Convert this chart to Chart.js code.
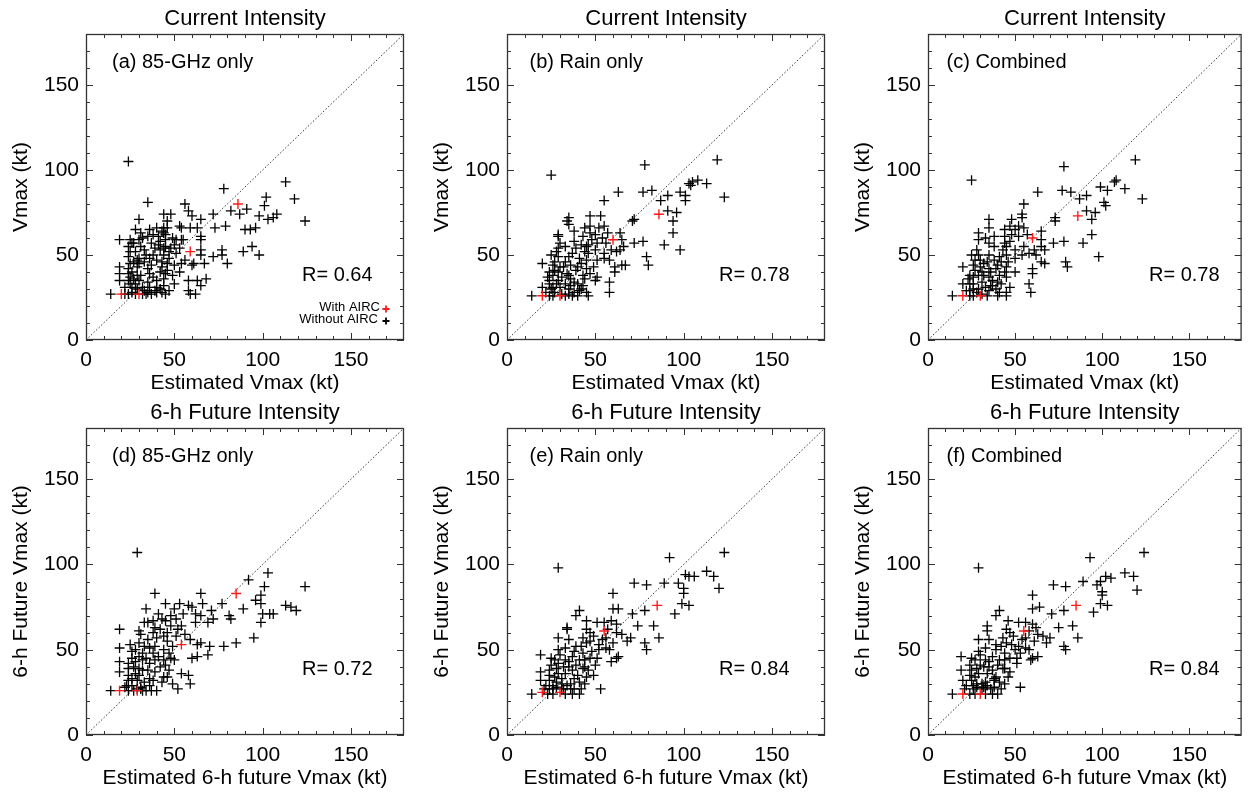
<!DOCTYPE html>
<html><head><meta charset="utf-8">
<script src="https://cdn.jsdelivr.net/npm/chart.js@4.4.0/dist/chart.umd.min.js"></script>
<style>
html,body{margin:0;padding:0;background:#fff;}
#wrap{position:relative;width:1248px;height:792px;overflow:hidden;background:#fff}
canvas{position:absolute;}
</style></head><body><div id="wrap"></div>
<script>
// ---------------- DATA ----------------
const tickValues = [0, 50, 100, 150];
const minorTicks = [10, 20, 30, 40, 60, 70, 80, 90, 110, 120, 130, 140, 160, 170];
const diagonal = [[0, 0], [180, 180]];

const rowTitles = ['Current Intensity', '6-h Future Intensity'];
const xTitles = ['Estimated Vmax (kt)', 'Estimated 6-h future Vmax (kt)'];
const yTitles = ['Vmax (kt)', '6-h Future Vmax (kt)'];
const panelLabels = ['(a) 85-GHz only', '(b) Rain only', '(c) Combined', '(d) 85-GHz only', '(e) Rain only', '(f) Combined'];
const rValues = ['0.64', '0.78', '0.78', '0.72', '0.84', '0.84'];
const legendLabels = ['With AIRC', 'Without AIRC'];

const blackA = [[24,105],[78,89],[113,93],[118,83],[124,70],[35,81],[56,80],[102,84],[101,79],[82,76],[87,74],[91,77],[98,73],[103,71],[106,72],[108,74],[30,71],[44,74],[48,74],[58,76],[60,73],[65,71],[72,74],[73,66],[79,67],[90,65],[93,65],[96,66],[53,67],[54,66],[59,66],[63,66],[28,65],[36,65],[40,66],[43,64],[19,59],[25,59],[30,59],[35,61],[41,61],[45,62],[49,60],[65,59],[65,61],[48,54],[55,59],[65,53],[65,50],[72,49],[77,53],[77,50],[89,52],[94,55],[98,50],[24,55],[28,52],[33,53],[39,54],[45,55],[24,49],[30,48],[40,47],[44,50],[46,45],[50,44],[54,45],[60,44],[61,45],[67,45],[80,45],[19,43],[24,42],[29,43],[35,42],[43,43],[19,39],[24,39],[31,38],[36,39],[45,39],[50,33],[58,35],[63,35],[68,36],[19,35],[24,35],[30,35],[35,34],[40,35],[22,31],[26,31],[32,31],[36,31],[40,31],[44,32],[65,32],[58,29],[59,27],[62,27],[14,27],[24,27],[26,28],[32,27],[34,27],[37,27],[40,28],[43,28],[45,27],[27,46],[26,40],[28,33],[33,46],[38,50],[42,58],[44,66],[46,70],[37,57],[31,63],[27,57],[38,37],[33,29],[29,30],[42,30],[37,44],[22,27],[28,27],[35,28],[47,48],[45,59],[44,63],[42,53],[51,51],[53,54],[51,59],[54,59],[25,33],[25,37],[25,45],[25,52],[26,57],[29,47],[29,38],[30,45],[31,55],[27,36],[43,46],[44,36],[46,41],[44,54],[46,66],[47,52],[42,40],[41,56],[36,48],[34,50],[38,62],[32,60],[39,29],[47,29],[49,38],[53,40],[56,47],[50,56]];
const redA = [[20,27],[30,27],[59,52],[86,80]];

const blackB = [[25,97],[78,103],[119,106],[123,84],[63,87],[55,82],[77,87],[82,88],[87,82],[91,85],[98,87],[101,82],[101,85],[103,92],[105,93],[108,94],[113,92],[104,91],[91,76],[96,75],[94,70],[94,63],[89,56],[98,53],[72,71],[71,70],[72,57],[77,58],[79,49],[80,44],[64,63],[65,59],[66,55],[64,53],[65,44],[67,44],[61,40],[58,28],[58,34],[47,73],[53,73],[55,67],[35,72],[35,68],[34,70],[44,66],[43,61],[47,63],[50,62],[29,62],[29,61],[54,60],[51,57],[56,57],[38,58],[33,55],[39,54],[45,55],[46,51],[50,53],[55,51],[59,53],[29,54],[25,50],[29,49],[35,49],[41,48],[45,47],[51,47],[55,48],[58,47],[20,45],[26,44],[30,43],[36,44],[40,43],[45,42],[49,43],[61,43],[51,37],[24,40],[29,40],[35,38],[43,38],[47,39],[50,35],[24,35],[29,35],[33,33],[38,34],[43,32],[20,31],[25,30],[30,31],[35,30],[41,29],[45,28],[14,26],[24,26],[26,26],[33,26],[37,26],[40,26],[46,26],[42,30],[38,28],[27,28],[22,28],[31,37],[27,41],[33,46],[37,51],[42,56],[28,33],[35,27],[24,33],[26,38],[27,46],[28,52],[30,57],[32,43],[34,39],[36,36],[39,41],[42,45],[44,52],[46,56],[48,59],[40,33],[44,36],[31,27],[36,32],[26,31],[23,37],[47,67],[38,64],[52,66],[57,63],[62,52]];
const redB = [[20,26],[30,26],[60,59],[86,74]];

const blackC = [[25,94],[78,102],[119,106],[123,83],[63,87],[55,80],[54,74],[77,88],[82,87],[87,83],[91,85],[99,90],[103,88],[108,94],[107,93],[113,89],[101,81],[102,79],[91,76],[96,75],[94,71],[94,62],[89,57],[98,49],[73,72],[73,70],[72,57],[78,58],[79,46],[80,43],[65,64],[65,59],[65,55],[67,53],[65,46],[67,45],[60,42],[60,39],[58,33],[59,28],[48,71],[54,72],[55,66],[35,71],[35,66],[44,65],[44,61],[50,65],[52,61],[29,63],[29,59],[35,57],[38,55],[45,55],[50,53],[55,55],[58,51],[61,53],[25,50],[29,50],[35,50],[41,49],[45,50],[50,48],[54,50],[20,43],[26,44],[30,43],[35,42],[40,44],[45,43],[50,40],[24,38],[29,38],[35,37],[41,38],[45,37],[20,33],[26,33],[31,34],[37,32],[42,33],[47,31],[24,29],[29,30],[35,29],[41,28],[45,28],[14,26],[24,26],[26,26],[34,26],[40,26],[45,26],[27,47],[32,45],[38,47],[43,53],[47,58],[31,40],[37,35],[22,29],[28,28],[33,31],[39,30],[24,33],[26,37],[27,41],[28,53],[30,47],[32,38],[34,46],[36,40],[39,42],[42,46],[44,57],[46,46],[48,62],[40,34],[44,40],[31,27],[36,32],[26,30],[23,36],[47,67],[38,61],[52,67],[57,62],[62,50],[33,60]];
const redC = [[20,26],[30,26],[60,60],[86,73]];

const blackD = [[29,107],[124,87],[103,95],[92,91],[101,87],[99,82],[96,79],[39,83],[65,83],[66,77],[77,77],[89,74],[99,77],[100,71],[104,71],[106,71],[99,66],[113,76],[116,75],[119,73],[95,57],[85,54],[78,52],[70,52],[69,47],[45,77],[53,77],[58,76],[60,75],[71,73],[72,68],[81,70],[82,68],[62,71],[65,70],[62,66],[69,66],[34,74],[33,66],[43,68],[45,67],[51,68],[54,64],[19,62],[30,61],[31,59],[38,60],[39,63],[46,55],[39,52],[33,52],[30,54],[25,53],[19,51],[59,56],[63,53],[65,54],[51,58],[49,52],[26,49],[32,48],[38,48],[44,50],[48,45],[50,44],[60,45],[63,46],[19,43],[24,42],[28,43],[32,44],[45,41],[24,39],[30,39],[35,38],[39,37],[54,36],[58,35],[19,37],[30,35],[46,34],[59,30],[24,32],[29,32],[33,31],[38,32],[43,31],[49,30],[52,27],[14,26],[24,26],[27,26],[32,26],[34,26],[37,26],[40,26],[22,28],[26,29],[28,36],[36,42],[41,46],[47,48],[35,56],[42,62],[48,64],[44,58],[36,29],[31,28],[24,35],[26,45],[27,40],[28,50],[30,46],[32,38],[34,45],[36,51],[39,44],[42,40],[44,44],[46,60],[48,70],[40,57],[44,34],[31,27],[36,33],[26,33],[23,29],[47,38],[38,67],[52,62],[56,59],[35,66],[41,71],[50,74],[55,71],[29,27]];
const redD = [[19,26],[29,26],[54,53],[85,83]];

const blackE = [[29,98],[92,104],[123,107],[113,96],[117,93],[120,86],[101,94],[103,93],[106,93],[97,89],[100,86],[100,83],[99,77],[103,76],[89,89],[79,88],[72,89],[95,71],[78,73],[71,71],[83,64],[86,57],[78,54],[79,50],[60,83],[60,74],[63,74],[39,70],[41,73],[45,67],[34,63],[34,62],[51,66],[55,66],[59,67],[62,65],[57,62],[62,60],[65,59],[68,55],[70,57],[74,64],[29,57],[35,56],[43,57],[45,54],[47,55],[52,53],[56,51],[60,54],[62,45],[63,46],[59,43],[19,47],[25,45],[29,50],[33,51],[38,49],[43,48],[48,49],[52,50],[25,41],[29,42],[35,43],[39,41],[44,40],[46,38],[50,41],[19,37],[24,38],[29,36],[33,36],[40,35],[45,34],[49,35],[19,32],[24,32],[28,31],[31,33],[36,30],[41,31],[53,27],[14,24],[23,24],[26,24],[33,24],[37,24],[41,24],[24,27],[28,28],[32,27],[36,27],[22,29],[27,34],[32,40],[37,46],[42,52],[47,60],[31,30],[38,33],[44,44],[24,35],[26,29],[27,44],[28,39],[30,47],[31,27],[34,29],[35,40],[37,38],[39,52],[41,44],[43,39],[45,62],[47,45],[49,58],[51,45],[54,56],[56,57],[58,50],[33,44],[21,27],[26,27],[38,27],[42,27],[44,30]];
const redE = [[20,25],[30,25],[55,61],[85,76]];

const blackF = [[29,98],[93,104],[124,107],[113,95],[118,93],[120,85],[102,93],[105,92],[99,90],[97,88],[100,84],[100,82],[99,77],[103,76],[89,90],[79,87],[72,88],[95,72],[78,73],[71,71],[83,64],[86,57],[78,52],[79,50],[60,82],[60,74],[64,75],[41,73],[39,70],[46,67],[34,64],[34,61],[52,66],[56,66],[60,65],[62,63],[58,61],[63,59],[66,58],[68,54],[70,57],[75,63],[29,56],[35,56],[43,57],[45,54],[48,53],[52,52],[56,51],[61,55],[60,45],[63,46],[59,44],[19,46],[25,45],[29,49],[33,51],[39,50],[44,48],[50,50],[53,48],[24,41],[30,41],[35,43],[40,41],[44,39],[47,37],[51,42],[19,38],[25,38],[29,36],[34,36],[39,34],[46,34],[20,32],[25,32],[28,30],[33,31],[38,32],[41,31],[53,28],[14,24],[24,24],[27,24],[33,24],[37,24],[40,24],[28,28],[32,28],[36,27],[22,29],[27,34],[32,40],[37,46],[42,52],[47,60],[31,30],[38,33],[44,44],[24,35],[26,29],[27,44],[28,39],[30,47],[31,27],[34,29],[35,40],[37,38],[39,53],[41,44],[43,39],[45,62],[47,45],[49,58],[51,45],[54,56],[56,57],[58,50],[33,44],[21,27],[26,27],[38,28],[42,27],[44,30]];
const redF = [[20,24],[30,24],[55,61],[85,76]];

const blackSets = [blackA, blackB, blackC, blackD, blackE, blackF];
const redSets = [redA, redB, redC, redD, redE, redF];

// ---------------- LAYOUT ----------------
const FONT = "'Liberation Sans', Arial, Helvetica, sans-serif";
const colCanvasLeft = [0, 421, 842];
const colCanvasWidth = [416, 416, 406];
const colRightPad = [12, 12, 2];
const rowCanvasTop = [0, 396];
const rowTopPad = [34, 32];
const rowXHeight = [56, 57];
const labelOffset = [26, 22.5, 18.5];
const rOffset = [216, 212, 221];

Chart.defaults.font.family = FONT;
const pts = a => a.map(([x, y]) => ({x, y}));

const decor = {
  id: 'decor',
  afterDatasetsDraw(chart) {
    const o = chart.options.plugins.decor;
    const {ctx, chartArea: {left, right, top, bottom}, scales: {x, y}} = chart;
    ctx.save();
    ctx.strokeStyle = '#333';
    ctx.lineWidth = 1;
    ctx.beginPath();
    const list = tickValues.map(v => [v, 7]).concat(minorTicks.map(v => [v, 4]));
    for (const [v, len] of list) {
      const px = Math.round(x.getPixelForValue(v)) + 0.5;
      ctx.moveTo(px, bottom); ctx.lineTo(px, bottom - len);
      ctx.moveTo(px, top); ctx.lineTo(px, top + len);
      const py = Math.round(y.getPixelForValue(v)) + 0.5;
      ctx.moveTo(left, py); ctx.lineTo(left + len, py);
      ctx.moveTo(right, py); ctx.lineTo(right - len, py);
    }
    ctx.stroke();
    ctx.lineWidth = 1.3;
    ctx.strokeRect(left + 0.5, top + 0.5, right - left - 1, bottom - top - 1);

    ctx.fillStyle = '#000';
    ctx.font = '22px ' + FONT;
    ctx.textAlign = 'center';
    ctx.textBaseline = 'alphabetic';
    ctx.fillText(o.title, (left + right) / 2, top - 9);

    ctx.font = '20px ' + FONT;
    ctx.textAlign = 'left';
    ctx.textBaseline = 'middle';
    ctx.fillText(o.label, left + o.labelOff, top + 28);
    ctx.fillText('R= ' + o.r, left + o.rOff, top + 241);

    if (o.legend) {
      ctx.font = '13px ' + FONT;
      ctx.textAlign = 'right';
      ctx.fillText(legendLabels[0], left + 294, top + 273);
      ctx.fillText(legendLabels[1], left + 292, top + 285);
      const cross = (cx, cy, col) => {
        ctx.strokeStyle = col; ctx.lineWidth = 1.8;
        ctx.beginPath();
        ctx.moveTo(cx - 3.5, cy); ctx.lineTo(cx + 3.5, cy);
        ctx.moveTo(cx, cy - 3.5); ctx.lineTo(cx, cy + 3.5);
        ctx.stroke();
      };
      cross(left + 300, top + 275, '#ff1a1a');
      cross(left + 300, top + 287, '#000');
    }
    ctx.restore();
  }
};

const wrap = document.getElementById('wrap');
for (let i = 0; i < 6; i++) {
  const row = Math.floor(i / 3), col = i % 3;
  const cv = document.createElement('canvas');
  cv.width = colCanvasWidth[col];
  cv.height = 396;
  cv.style.left = colCanvasLeft[col] + 'px';
  cv.style.top = rowCanvasTop[row] + 'px';
  cv.style.width = colCanvasWidth[col] + 'px';
  cv.style.height = '396px';
  wrap.appendChild(cv);

  const tickFont = {family: FONT, size: 21};
  new Chart(cv.getContext('2d'), {
    type: 'scatter',
    data: {
      datasets: [
        {data: pts(redSets[i]), pointStyle: 'cross', pointRadius: 5, pointHoverRadius: 5,
         borderColor: '#ff1a1a', backgroundColor: '#ff1a1a', borderWidth: 1.4, order: 0},
        {data: pts(blackSets[i]), pointStyle: 'cross', pointRadius: 5, pointHoverRadius: 5,
         borderColor: '#000', backgroundColor: '#000', borderWidth: 1.3, order: 1},
        {data: pts(diagonal), showLine: true, pointRadius: 0, borderColor: '#333',
         borderWidth: 1, borderDash: [1.5, 2], order: 2}
      ]
    },
    options: {
      responsive: false, animation: false, devicePixelRatio: 1,
      events: [],
      layout: {padding: {top: rowTopPad[row], right: colRightPad[col], left: 0, bottom: 0}},
      plugins: {
        legend: {display: false}, tooltip: {enabled: false},
        decor: {title: rowTitles[row], label: panelLabels[i], r: rValues[i],
                labelOff: labelOffset[col], rOff: rOffset[col], legend: i === 0}
      },
      scales: {
        x: {
          type: 'linear', min: 0, max: 180,
          afterBuildTicks: s => { s.ticks = tickValues.map(v => ({value: v})); },
          afterFit: s => { s.height = rowXHeight[row]; },
          ticks: {font: tickFont, color: '#000', padding: 8, maxRotation: 0, autoSkip: false},
          grid: {display: false, drawTicks: false},
          border: {display: false},
          title: {display: true, text: xTitles[row], font: {family: FONT, size: 21}, color: '#000',
                  padding: {top: 0, bottom: row === 0 ? 0 : 1}}
        },
        y: {
          type: 'linear', min: 0, max: 180,
          afterBuildTicks: s => { s.ticks = tickValues.map(v => ({value: v})); },
          afterFit: s => { s.width = 86; },
          ticks: {font: tickFont, color: '#000', padding: 7, autoSkip: false},
          grid: {display: false, drawTicks: false},
          border: {display: false},
          title: {display: true, text: yTitles[row], font: {family: FONT, size: 21}, color: '#000',
                  padding: {top: 9, bottom: 0}}
        }
      }
    },
    plugins: [decor]
  });
}
</script></body></html>
